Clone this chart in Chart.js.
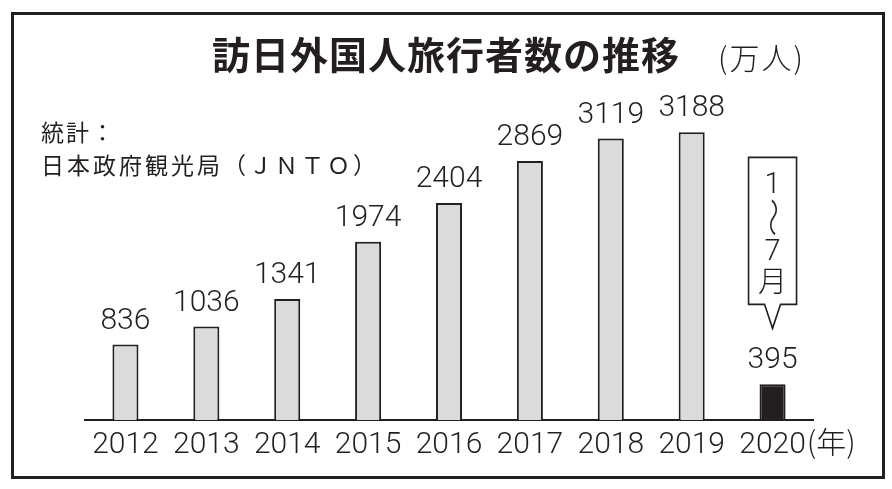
<!DOCTYPE html>
<html><head><meta charset="utf-8">
<script src="https://cdn.jsdelivr.net/npm/chart.js@4"></script>
<style>
html,body{margin:0;padding:0;background:#fff;}
#wrap{position:relative;width:892px;height:489px;overflow:hidden;background:#fff;}
#frame{position:absolute;left:11px;top:12px;width:868px;height:461px;border:3px solid #231f20;}
#c{position:absolute;left:0;top:0;}
.t{position:absolute;color:#231f20;white-space:nowrap;font-family:"Noto Sans CJK JP";line-height:1;}
#title{left:212px;top:34px;font-size:38px;font-weight:bold;letter-spacing:1px;}
#unit{left:718px;top:41px;font-size:30px;letter-spacing:2px;font-weight:300;}
#src1{left:41px;top:120px;font-size:23px;letter-spacing:2px;}
#src2{left:41px;top:153px;font-size:23px;letter-spacing:3px;}
</style>
</head><body>
<div id="wrap">
<div id="frame"></div>
<canvas id="c" width="892" height="489"></canvas>
<div class="t" id="title">訪日外国人旅行者数の推移</div>
<div class="t" id="unit">(万人)</div>
<div class="t" id="src1">統計：</div>
<div class="t" id="src2">日本政府観光局（ＪＮＴＯ）</div>
</div>
<script>
const categories = ['2012','2013','2014','2015','2016','2017','2018','2019','2020'];
const visitors = [836, 1036, 1341, 1974, 2404, 2869, 3119, 3188, 395];
const yearSuffix = '(年)';
const partialNote = ['1', '〜', '7', '月'];

const INK = '#231f20';
const GREY = '#dcdbdb';
const NUM_FONT = '300 30px Roboto';

const labelPlugin = {
  id: 'labels',
  afterDatasetsDraw(chart) {
    const ctx = chart.ctx;
    const meta = chart.getDatasetMeta(0);
    ctx.save();
    ctx.fillStyle = INK;
    ctx.font = NUM_FONT;
    ctx.textAlign = 'center';
    ctx.textBaseline = 'alphabetic';
    meta.data.forEach((bar, i) => {
      ctx.fillText(String(visitors[i]), bar.x, bar.y - 16);
    });
    // year suffix after last tick
    const last = meta.data[meta.data.length - 1];
    const w = ctx.measureText(categories[categories.length - 1]).width;
    ctx.font = '300 30px "Noto Sans CJK JP"';
    ctx.textAlign = 'left';
    ctx.fillText(yearSuffix, last.x + w / 2 + 1, chart.chartArea.bottom + 33);

    // callout
    const cx = last.x;
    const tipY = last.y - 56;
    const boxBottom = tipY - 24;
    const boxTop = boxBottom - 147;
    const hw = 24, gap = 8;
    ctx.beginPath();
    ctx.moveTo(cx - gap, boxBottom);
    ctx.lineTo(cx - hw, boxBottom);
    ctx.lineTo(cx - hw, boxTop);
    ctx.lineTo(cx + hw, boxTop);
    ctx.lineTo(cx + hw, boxBottom);
    ctx.lineTo(cx + gap, boxBottom);
    ctx.lineTo(cx, tipY);
    ctx.closePath();
    ctx.fillStyle = '#fff';
    ctx.fill();
    ctx.lineWidth = 1.6;
    ctx.strokeStyle = INK;
    ctx.lineJoin = 'miter';
    ctx.stroke();

    ctx.fillStyle = INK;
    ctx.textAlign = 'center';
    ctx.font = '300 29px Roboto';
    ctx.fillText(partialNote[0], cx, boxTop + 35.5);
    ctx.fillText(partialNote[2], cx, boxTop + 102.5);
    ctx.font = '300 29px "Noto Sans CJK JP"';
    ctx.fillText(partialNote[3], cx, boxTop + 134.5);
    // vertical wave
    ctx.save();
    ctx.translate(cx, boxTop + 60);
    ctx.rotate(Math.PI / 2);
    ctx.scale(1.35, 1);
    ctx.textBaseline = 'middle';
    ctx.font = '300 29px "Noto Sans CJK JP"';
    ctx.fillText(partialNote[1], 0, 0);
    ctx.restore();
    ctx.restore();
  }
};

new Chart(document.getElementById('c'), {
  type: 'bar',
  data: {
    labels: categories,
    datasets: [{
      data: visitors,
      backgroundColor: (c) => c.dataIndex === categories.length - 1 ? INK : GREY,
      borderColor: INK,
      borderWidth: 2,
      borderSkipped: 'start',
      barPercentage: 0.322,
      categoryPercentage: 1.0
    }]
  },
  options: {
    responsive: false,
    animation: false,
    devicePixelRatio: 1,
    layout: { padding: { left: 85, right: 79, top: 59, bottom: 19 } },
    plugins: { legend: { display: false }, tooltip: { enabled: false }, title: { display: false } },
    scales: {
      x: {
        grid: { display: false, drawTicks: false },
        border: { display: true, color: INK, width: 2 },
        ticks: { font: { family: 'Roboto', size: 30, weight: 300 }, color: INK, padding: 7, maxRotation: 0, autoSkip: false },
        afterFit(s) { s.height = 50; }
      },
      y: { display: false, min: 0, max: 4000 }
    }
  },
  plugins: [labelPlugin]
});
</script>
</body></html>
